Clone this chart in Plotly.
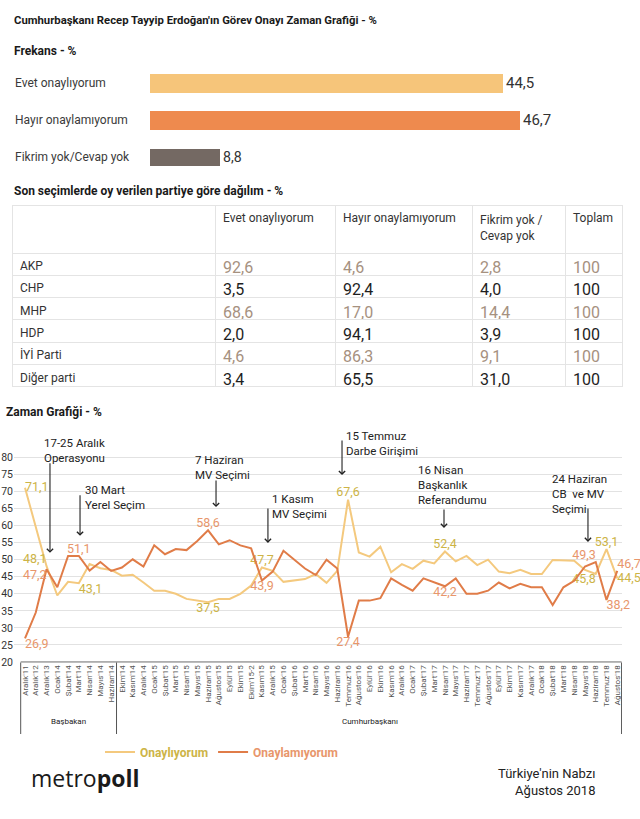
import plotly.graph_objects as go

# ---------------- DATA ----------------
freq_labels = ["Evet onaylıyorum", "Hayır onaylamıyorum", "Fikrim yok/Cevap yok"]
freq_values = [44.5, 46.7, 8.8]
freq_colors = ["#F6C57A", "#EE8A4E", "#746963"]

parties = ["AKP", "CHP", "MHP", "HDP", "İYİ Parti", "Diğer parti"]
evet_by_party = [92.6, 3.5, 68.6, 2.0, 4.6, 3.4]
hayir_by_party = [4.6, 92.4, 17.0, 94.1, 86.3, 65.5]
fikrim_by_party = [2.8, 4.0, 14.4, 3.9, 9.1, 31.0]
toplam_by_party = [100, 100, 100, 100, 100, 100]
table_headers = ["", "Evet onaylıyorum", "Hayır onaylamıyorum", "Fikrim yok /<br>Cevap yok", "Toplam"]

months = ["Aralık'11", "Aralık'12", "Aralık'13", "Ocak'14", "Şubat'14", "Mart'14", "Nisan'14",
          "Mayıs'14", "Haziran'14", "Ekim'14", "Kasım'14", "Aralık'14", "Ocak'15", "Şubat'15",
          "Mart'15", "Nisan'15", "Mayıs'15", "Haziran'15", "Ağustos'15", "Eylül'15", "Ekim'15",
          "Ekim'15-2", "Kasım'15", "Aralık'15", "Ocak'16", "Şubat'16", "Mart'16", "Nisan'16",
          "Mayıs'16", "Haziran'16", "Temmuz'16", "Ağustos'16", "Eylül'16", "Ekim'16", "Kasım'16",
          "Aralık'16", "Ocak'17", "Şubat'17", "Mart'17", "Nisan'17", "Mayıs'17", "Haziran'17",
          "Temmuz'17", "Ağustos'17", "Eylül'17", "Ekim'17", "Kasım'17", "Aralık'17", "Ocak'18",
          "Şubat'18", "Mart'18", "Nisan'18", "Mayıs'18", "Haziran'18", "Temmuz'18", "Ağustos'18"]

onayliyorum = [71.1, 60.0, 48.1, 39.5, 43.5, 43.1, 48.7, 47.5, 47.0, 45.3, 45.6, 43.3, 40.9, 40.9,
               40.0, 38.5, 38.0, 37.5, 38.5, 38.5, 40.0, 42.4, 47.7, 46.7, 43.5, 44.0, 44.3, 45.8,
               43.2, 46.7, 67.6, 52.1, 50.9, 53.8, 46.3, 48.7, 47.3, 49.7, 48.9, 52.4, 49.5, 51.1,
               48.4, 50.0, 46.5, 46.0, 47.0, 45.8, 45.8, 49.9, 49.9, 49.7, 47.0, 45.8, 53.1, 44.5]

onaylamiyorum = [26.9, 34.5, 47.2, 41.9, 51.1, 51.1, 46.8, 49.3, 46.7, 47.7, 50.1, 48.0, 54.2, 51.6,
                 53.1, 52.8, 55.5, 58.6, 54.5, 55.7, 54.2, 53.3, 43.9, 46.5, 52.6, 50.1, 47.4, 45.5,
                 50.0, 47.4, 27.4, 38.0, 38.0, 38.7, 44.5, 42.6, 40.9, 44.5, 43.3, 42.2, 44.5, 40.0,
                 40.0, 40.9, 43.3, 41.6, 42.9, 41.9, 41.9, 36.7, 41.9, 43.8, 48.0, 49.3, 38.2, 46.7]

# labelled points and where their value labels sit
approve_label_pos = {0: "middle right", 2: "top left", 5: "bottom right", 17: "bottom center",
                     22: "top center", 30: "top center", 39: "top center", 53: "bottom left",
                     54: "top center", 55: "middle right"}
disapprove_label_pos = {0: "bottom right", 2: "bottom left", 5: "top center", 17: "top center",
                        22: "bottom center", 30: "bottom center", 39: "bottom center", 53: "top left",
                        54: "bottom right", 55: "top right"}

# events: text, arrow position (month index), arrow tip value
event_texts = ["17-25 Aralık<br>Operasyonu", "30 Mart<br>Yerel Seçim", "7 Haziran<br>MV Seçimi",
               "1 Kasım<br>MV Seçimi", "15 Temmuz<br>Darbe Girişimi",
               "16 Nisan<br>Başkanlık<br>Referandumu", "24 Haziran<br>CB  ve MV<br>Seçimi"]
event_x = [2.32, 5.11, 17.74, 22.56, 29.44, 38.91, 52.28]
event_tip = [52.0, 57.0, 65.4, 54.9, 74.8, 59.3, 55.2]
# annotation layout (pixels): arrow length, text left x (month units), text centre y (px)
event_arrow_len = [91, 42, 28, 36, 36, 20, 35]
event_text_x = [1.58, 5.39, 15.6, 22.75, 29.62, 36.31, 48.75]
event_text_py = [450, 497.5, 467.5, 506, 443, 484.5, 493.5]

# ---------------- STYLE ----------------
W, H = 640, 819
FONT = "Roboto, Lato, sans-serif"
YEL_LINE = "#F4C97E"
ORA_LINE = "#E07C48"
YEL_TXT = "#CDB446"
ORA_TXT = "#E8966B"
GRAY_ROW = "#A6917F"


def px_x(p):
    return p / W


def px_y(p):
    return 1 - p / H


def fmt(v):
    return f"{v:.1f}".replace(".", ",")


fig = go.Figure()

# ---- Frequency bars ----
fig.add_trace(go.Bar(
    x=freq_values, y=list(range(len(freq_values))), orientation="h",
    marker=dict(color=freq_colors, line=dict(width=0)),
    width=[0.52, 0.5, 0.46],
    text=[fmt(v) for v in freq_values], textposition="outside",
    textfont=dict(family=FONT, size=15, color="#333333"),
    cliponaxis=False, xaxis="x", yaxis="y", showlegend=False, hoverinfo="skip"))

for i, lab in enumerate(freq_labels):
    fig.add_annotation(text=lab, xref="paper", x=px_x(13), xanchor="left",
                       yref="y", y=i, yanchor="middle", showarrow=False,
                       font=dict(family=FONT, size=12, color="#3a3a3a"))

# ---- Table ----
gray_rows = [0, 2, 4]
val_colors = [GRAY_ROW if r in gray_rows else "#1e1e1e" for r in range(len(parties))]
fig.add_trace(go.Table(
    domain=dict(x=[px_x(12), px_x(622)], y=[px_y(390), px_y(205)]),
    columnwidth=[203, 120, 137, 93, 57],
    header=dict(values=table_headers, align="left", height=48,
                fill_color="white", line=dict(color="#e4e4e4", width=1),
                font=dict(family=FONT, size=12, color="#333333")),
    cells=dict(values=[parties,
                       [fmt(v) for v in evet_by_party],
                       [fmt(v) for v in hayir_by_party],
                       [fmt(v) for v in fikrim_by_party],
                       [str(v) for v in toplam_by_party]],
               align="left", height=22.3, fill_color="white",
               line=dict(color="#e4e4e4", width=1),
               font=dict(family=FONT, size=[12, 16, 16, 16, 16],
                         color=[["#333333"] * len(parties)] + [val_colors] * 4))))

# ---- Time series ----
def label_arrays(vals, pos):
    texts = [fmt(v) if i in pos else "" for i, v in enumerate(vals)]
    posl = [pos.get(i, "top center") for i in range(len(vals))]
    return texts, posl

t1, p1 = label_arrays(onayliyorum, approve_label_pos)
t2, p2 = label_arrays(onaylamiyorum, disapprove_label_pos)
xi = list(range(len(months)))

fig.add_trace(go.Scatter(
    x=xi, y=onayliyorum, mode="lines+text", text=t1, textposition=p1,
    textfont=dict(family=FONT, size=12.5, color=YEL_TXT),
    line=dict(color=YEL_LINE, width=2), cliponaxis=False,
    name=f"<span style='color:{YEL_TXT}'><b>Onaylıyorum</b></span>",
    xaxis="x2", yaxis="y2", hoverinfo="skip"))
fig.add_trace(go.Scatter(
    x=xi, y=onaylamiyorum, mode="lines+text", text=t2, textposition=p2,
    textfont=dict(family=FONT, size=12.5, color=ORA_TXT),
    line=dict(color=ORA_LINE, width=2), cliponaxis=False,
    name=f"<span style='color:{ORA_TXT}'><b>Onaylamıyorum</b></span>",
    xaxis="x2", yaxis="y2", hoverinfo="skip"))

for k, txt in enumerate(event_texts):
    fig.add_annotation(text="", x=event_x[k], y=event_tip[k], xref="x2", yref="y2",
                       ax=0, ay=-event_arrow_len[k], axref="pixel", ayref="pixel",
                       showarrow=True, arrowhead=4, arrowsize=1.1, arrowwidth=1.1,
                       arrowcolor="#222222", standoff=0)
    fig.add_annotation(text=txt, x=event_text_x[k], y=px_y(event_text_py[k]),
                       xref="x2", yref="paper",
                       xanchor="left", yanchor="middle", align="left", showarrow=False,
                       font=dict(family=FONT, size=11.5, color="#222222"))

# x-axis box
box_left, box_div, box_right = -0.4, 8.5, 55.4
fig.add_shape(type="line", xref="x2", yref="y2", x0=box_left, x1=box_right, y0=20, y1=20,
              line=dict(color="#555555", width=1))
for bx in (box_left, box_div, box_right):
    fig.add_shape(type="line", xref="x2", yref="paper", x0=bx, x1=bx,
                  y0=px_y(734), y1=px_y(662.5), line=dict(color="#555555", width=1))
fig.add_annotation(text="Başbakan", xref="x2", x=4, yref="paper", y=px_y(728),
                   showarrow=False, font=dict(family=FONT, size=8, color="#222222"))
fig.add_annotation(text="Cumhurbaşkanı", xref="x2", x=32, yref="paper", y=px_y(728),
                   showarrow=False, font=dict(family=FONT, size=8, color="#222222"))

# ---- Titles / footer ----
def head(text, x, y, size=11.5, bold=True, color="#1a1a1a", anchor="left"):
    fig.add_annotation(text=f"<b>{text}</b>" if bold else text, xref="paper", yref="paper",
                       x=px_x(x), y=px_y(y), xanchor=anchor, yanchor="middle",
                       align=anchor, showarrow=False,
                       font=dict(family=FONT, size=size, color=color))

head("Cumhurbaşkanı Recep Tayyip Erdoğan'ın Görev Onayı Zaman Grafiği - %", 12, 20, size=11.3)
head("Frekans - %", 12, 51, size=12)
head("Son seçimlerde oy verilen partiye göre dağılım - %", 12, 191, size=12)
head("Zaman Grafiği - %", 4, 412, size=12)
head("Türkiye'nin Nabzı<br>Ağustos 2018", 597, 782, size=13, bold=False, color="#222222", anchor="right")
fig.add_annotation(text="metro<b>poll</b>", xref="paper", yref="paper", x=px_x(29), y=px_y(778),
                   xanchor="left", yanchor="middle", showarrow=False,
                   font=dict(family="Open Sans, Lato, sans-serif", size=23, color="#1a1a1a"))

fig.update_layout(
    width=W, height=H, autosize=False, template="none",
    margin=dict(l=0, r=0, t=0, b=0),
    paper_bgcolor="white", plot_bgcolor="white",
    font=dict(family=FONT, color="#333333"),
    bargap=0,
    xaxis=dict(domain=[px_x(150), px_x(626)], range=[0, 60], visible=False, fixedrange=True),
    yaxis=dict(domain=[px_y(175.8), px_y(64.8)], range=[2.5, -0.5], visible=False),
    xaxis2=dict(domain=[px_x(14), px_x(622)], range=[-1.0215, 55.44], anchor="y2",
                tickmode="array", tickvals=xi, ticktext=months, tickangle=-90,
                tickfont=dict(family=FONT, size=8, color="#555555"),
                showgrid=False, zeroline=False, showline=False, ticks="", automargin=False),
    yaxis2=dict(domain=[px_y(662.7), px_y(453.9)], range=[19.8, 81], anchor="x2",
                tickmode="linear", tick0=20, dtick=5, gridcolor="#e2e2e2", gridwidth=1,
                zeroline=False, showline=False, ticks="", automargin=False,
                tickfont=dict(family=FONT, size=10.5, color="#333333")),
    legend=dict(orientation="h", x=px_x(100), y=px_y(752), xanchor="left", yanchor="middle",
                font=dict(family=FONT, size=12), bgcolor="rgba(0,0,0,0)",
                itemwidth=30, tracegroupgap=0),
    showlegend=True,
)

fig.write_html("out.html", config={"displayModeBar": False},
               post_script="document.body.style.margin='0';")
